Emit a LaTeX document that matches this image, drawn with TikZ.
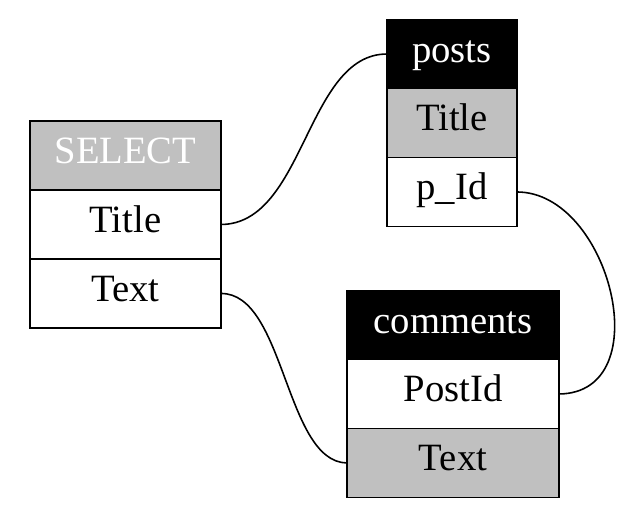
\documentclass[tikz,border=0pt]{standalone}
\usepackage{fontspec}
\setmainfont{Liberation Serif}
\usetikzlibrary{positioning}
\definecolor{cellgray}{HTML}{C0C0C0}
\tikzset{
  cell/.style={draw=black,line width=1pt,fill=white,minimum height=1.38cm,inner sep=0pt,outer sep=0pt,text height=.56cm,text depth=.24cm,font=\fontsize{22}{26}\selectfont},
  headcell/.style={cell,fill=black,text=white},
  selcell/.style={cell,fill=cellgray,text=white},
  keycell/.style={cell,fill=cellgray},
  link/.style={line width=.9pt},
}
\begin{document}
\begin{tikzpicture}[x=0.02cm,y=-0.02cm]
  \useasboundingbox (0,0) rectangle (620,515);
  % select
  \node[selcell,minimum width=3.82cm] (sel) at (125.5,155.5) {SELECT};
  \node[cell,minimum width=3.82cm,below=0pt of sel] (selTitle) {Title};
  \node[cell,minimum width=3.82cm,below=0pt of selTitle] (selText) {Text};
  % posts
  \node[headcell,minimum width=2.6cm] (posts) at (452,54) {posts};
  \node[keycell,minimum width=2.6cm,below=0pt of posts] (postsTitle) {Title};
  \node[cell,minimum width=2.6cm,below=0pt of postsTitle] (postsId) {p\_Id};
  % comments
  \node[headcell,minimum width=4.24cm] (comments) at (453,325) {comments};
  \node[cell,minimum width=4.24cm,below=0pt of comments] (commPostId) {PostId};
  \node[keycell,minimum width=4.24cm,below=0pt of commPostId] (commText) {Text};
  % links
  \draw[link] (selTitle.east) .. controls (305,224) and (306,54) .. (posts.west);
  \draw[link] (postsId.east) .. controls (610,192) and (660,393) .. (commPostId.east);
  \draw[link] (selText.east) .. controls (285,293) and (285,462) .. (commText.west);
\end{tikzpicture}
\end{document}
